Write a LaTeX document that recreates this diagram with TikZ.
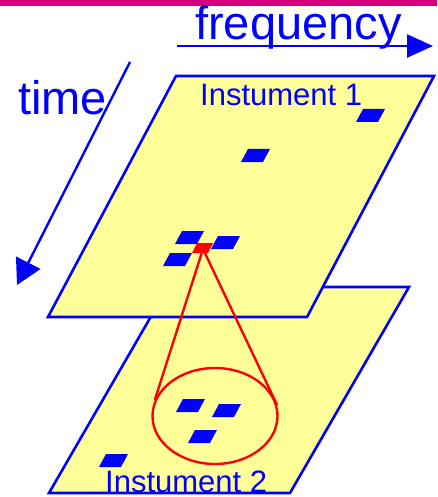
\documentclass[tikz,border=0pt]{standalone}
\usepackage{fontspec}
\setmainfont{Liberation Sans}
\usetikzlibrary{arrows.meta,shapes.geometric}
\definecolor{pblue}{RGB}{0,0,255}
\definecolor{pyellow}{RGB}{255,255,153}
\definecolor{pred}{RGB}{255,0,0}
\definecolor{pmag}{RGB}{214,0,127}
\tikzset{
  plane/.style={draw=pblue,fill=pyellow,line width=2.6pt,line join=miter},
  axis/.style={draw=pblue,line width=2.4pt},
  big/.style={text=pblue,inner sep=0pt,font=\fontsize{47}{54}\selectfont},
  lab/.style={text=pblue,inner sep=0pt,font=\fontsize{31}{37}\selectfont},
  zoomline/.style={draw=pred,line width=2.4pt},
}
\begin{document}
\begin{tikzpicture}[x=1pt,y=-1pt]
\useasboundingbox (0,0) rectangle (437,497);
\fill[pmag] (0,0) rectangle (437,6);
% plane 2 (lower)
\coordinate (b1) at (49,493);
\coordinate (b2) at (290,493);
\coordinate (b3) at (409,287);
\coordinate (b4) at (168,287);
\draw[plane] (b1) -- (b2) -- (b3) -- (b4) -- cycle;
\foreach \x/\y in {176/412,212/417,188/443,99/467}
  \fill[pblue] (\x,\y) -- ++(7,-13) -- ++(22,0) -- ++(-7,13) -- cycle;
\node[draw=pred,line width=2.4pt,ellipse,minimum width=125pt,minimum height=96pt,inner sep=0pt] (ell) at (215,416) {};
\node[lab,anchor=base west] (ins2) at (105,492) {Instument 2};
% plane 1 (upper)
\coordinate (a1) at (48,317);
\coordinate (a2) at (307,317);
\coordinate (a3) at (434,76);
\coordinate (a4) at (176,76);
\draw[plane] (a1) -- (a2) -- (a3) -- (a4) -- cycle;
\foreach \x/\y in {356/122,241/162,175/244,211/249,163/266}
  \fill[pblue] (\x,\y) -- ++(7,-13) -- ++(22,0) -- ++(-7,13) -- cycle;
\coordinate (rm) at (203,249);
\draw[zoomline] (rm) -- (ell.165);
\draw[zoomline] (rm) -- (ell.10);
\fill[pred] (192,253) -- (197,243) -- (213,243) -- (208,253) -- cycle;
\node[lab,anchor=base west] (ins1) at (200,106) {Instument 1};
% axes
\coordinate (f0) at (177,46);
\coordinate (f1) at (433,46);
\draw[axis,-{Triangle[length=26pt,width=23pt]}] (f0) -- (f1);
\node[big,anchor=base west] (freq) at (195,40) {frequency};
\coordinate (t0) at (130,62);
\coordinate (t1) at (17,285);
\draw[axis,-{Triangle[length=25pt,width=27pt]}] (t0) -- (t1);
\node[big,anchor=base west] (time) at (18,115) {time};
\end{tikzpicture}
\end{document}
